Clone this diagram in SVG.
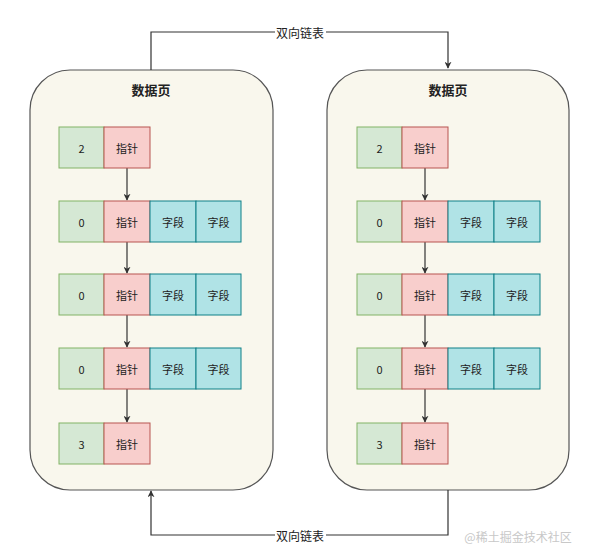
<svg xmlns="http://www.w3.org/2000/svg" width="589" height="556" viewBox="0 0 589 556">
<style>
.page{fill:#f9f7ed;stroke:#555;stroke-width:1.2}
.g{fill:#d5e8d4;stroke:#82b366}
.p{fill:#f8cecc;stroke:#b85450}
.c{fill:#b0e3e6;stroke:#0e8088}
text{font-family:"Noto Sans CJK SC","Liberation Sans",sans-serif;font-size:11px;fill:#222;text-anchor:middle;dominant-baseline:central}
.t{font-size:13px;font-weight:bold}
.lbl{font-size:12px}
.con{fill:none;stroke:#333;stroke-width:1.2}
.wm{fill:#c8c8c8;font-size:12px}
</style>
<defs>
<marker id="ah" viewBox="0 0 10 10" refX="9" refY="5" markerWidth="7" markerHeight="7" orient="auto" markerUnits="userSpaceOnUse"><path d="M0,0 L10,5 L0,10 L3,5 z" fill="#333"/></marker>
</defs>
<rect width="589" height="556" fill="#fff"/>
<g id="page-left">
<rect class="page" x="30" y="70" width="243" height="420" rx="40"/>
<text class="t" x="151" y="89">数据页</text>
</g>
<g id="page-right">
<rect class="page" x="327" y="70" width="242" height="420" rx="40"/>
<text class="t" x="448" y="89">数据页</text>
</g>
<g id="connectors">
<path class="con" d="M151,70 V32 H275"/>
<path class="con" d="M326,32 H448 V68" marker-end="url(#ah)"/>
<path class="con" d="M448,490 V535 H326"/>
<path class="con" d="M275,535 H151 V491" marker-end="url(#ah)"/>
<path class="con" d="M127,168 V200" marker-end="url(#ah)"/>
<path class="con" d="M127,242 V273" marker-end="url(#ah)"/>
<path class="con" d="M127,315 V347" marker-end="url(#ah)"/>
<path class="con" d="M127,389 V422" marker-end="url(#ah)"/>
<path class="con" d="M425,168 V200" marker-end="url(#ah)"/>
<path class="con" d="M425,242 V273" marker-end="url(#ah)"/>
<path class="con" d="M425,315 V347" marker-end="url(#ah)"/>
<path class="con" d="M425,389 V422" marker-end="url(#ah)"/>
</g>
<g id="link-top"><text class="lbl" x="300" y="32">双向链表</text></g>
<g id="link-bottom"><text class="lbl" x="300" y="535">双向链表</text></g>
<g id="L1"><rect class="g" x="59" y="127" width="45" height="41"/><text x="81.5" y="147.5">2</text><rect class="p" x="104" y="127" width="46" height="41"/><text x="127" y="147.5">指针</text></g>
<g id="L2"><rect class="g" x="59" y="201" width="45" height="41"/><text x="81.5" y="221.5">0</text><rect class="p" x="104" y="201" width="46" height="41"/><text x="127" y="221.5">指针</text><rect class="c" x="150" y="201" width="46" height="41"/><text x="173" y="221.5">字段</text><rect class="c" x="196" y="201" width="45" height="41"/><text x="218.5" y="221.5">字段</text></g>
<g id="L3"><rect class="g" x="59" y="274" width="45" height="41"/><text x="81.5" y="294.5">0</text><rect class="p" x="104" y="274" width="46" height="41"/><text x="127" y="294.5">指针</text><rect class="c" x="150" y="274" width="46" height="41"/><text x="173" y="294.5">字段</text><rect class="c" x="196" y="274" width="45" height="41"/><text x="218.5" y="294.5">字段</text></g>
<g id="L4"><rect class="g" x="59" y="348" width="45" height="41"/><text x="81.5" y="368.5">0</text><rect class="p" x="104" y="348" width="46" height="41"/><text x="127" y="368.5">指针</text><rect class="c" x="150" y="348" width="46" height="41"/><text x="173" y="368.5">字段</text><rect class="c" x="196" y="348" width="45" height="41"/><text x="218.5" y="368.5">字段</text></g>
<g id="L5"><rect class="g" x="59" y="423" width="45" height="41"/><text x="81.5" y="443.5">3</text><rect class="p" x="104" y="423" width="46" height="41"/><text x="127" y="443.5">指针</text></g>
<g id="R1"><rect class="g" x="357" y="127" width="45" height="41"/><text x="379.5" y="147.5">2</text><rect class="p" x="402" y="127" width="46" height="41"/><text x="425" y="147.5">指针</text></g>
<g id="R2"><rect class="g" x="357" y="201" width="45" height="41"/><text x="379.5" y="221.5">0</text><rect class="p" x="402" y="201" width="46" height="41"/><text x="425" y="221.5">指针</text><rect class="c" x="448" y="201" width="46" height="41"/><text x="471" y="221.5">字段</text><rect class="c" x="494" y="201" width="46" height="41"/><text x="517" y="221.5">字段</text></g>
<g id="R3"><rect class="g" x="357" y="274" width="45" height="41"/><text x="379.5" y="294.5">0</text><rect class="p" x="402" y="274" width="46" height="41"/><text x="425" y="294.5">指针</text><rect class="c" x="448" y="274" width="46" height="41"/><text x="471" y="294.5">字段</text><rect class="c" x="494" y="274" width="46" height="41"/><text x="517" y="294.5">字段</text></g>
<g id="R4"><rect class="g" x="357" y="348" width="45" height="41"/><text x="379.5" y="368.5">0</text><rect class="p" x="402" y="348" width="46" height="41"/><text x="425" y="368.5">指针</text><rect class="c" x="448" y="348" width="46" height="41"/><text x="471" y="368.5">字段</text><rect class="c" x="494" y="348" width="46" height="41"/><text x="517" y="368.5">字段</text></g>
<g id="R5"><rect class="g" x="357" y="423" width="45" height="41"/><text x="379.5" y="443.5">3</text><rect class="p" x="402" y="423" width="46" height="41"/><text x="425" y="443.5">指针</text></g>
<g id="watermark"><text class="wm" x="518" y="536">@稀土掘金技术社区</text></g>
</svg>
